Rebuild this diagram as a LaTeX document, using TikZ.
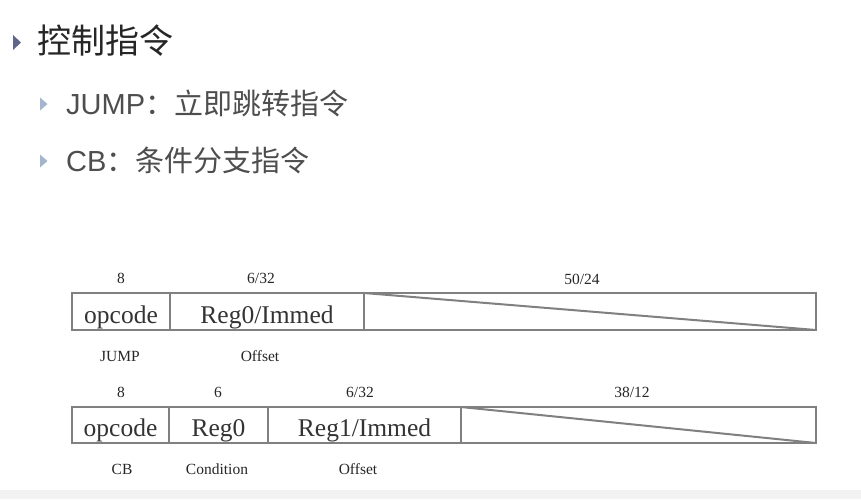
\documentclass[tikz,border=0pt]{standalone}
\usepackage{fontspec}
\setmainfont{Liberation Serif}
\newfontfamily\cjk{Noto Sans CJK SC}
\newfontfamily\hei{Liberation Sans}
\usetikzlibrary{positioning}
\definecolor{boxgray}{RGB}{128,128,128}
\definecolor{tridark}{RGB}{96,101,138}
\definecolor{trilight}{RGB}{163,182,206}
\definecolor{subtext}{RGB}{78,78,78}
\tikzset{
 field/.style={draw=boxgray, line width=2.6pt, inner sep=0pt, outer sep=0pt,
   text height=23pt, text depth=0pt,
   font=\fontsize{25.5}{25.5}\selectfont, text=black!80},
 bits/.style={font=\fontsize{15.5}{15.5}\selectfont, inner sep=0pt, text=black!85},
 item/.style={anchor=west, inner sep=0pt, text=subtext, font=\fontsize{29}{29}\selectfont},
}

\begin{document}
\begin{tikzpicture}[x=1pt, y=-1pt]
\useasboundingbox (0,0) rectangle (861,499);
\fill[white] (0,0) rectangle (861,499);
\fill[black!5] (0,490) rectangle (861,499);

% bullets
\fill[tridark] (13,35) -- (21,42.5) -- (13,50) -- cycle;
\node[anchor=west, inner sep=0pt, text=black!85, font=\cjk\fontsize{34}{34}\selectfont] (title) at (37,41) {控制指令};
\foreach \y in {104,161} {
 \fill[trilight] (40,\y-6.5) --++(7.5,6.5) --++(-7.5,6.5) -- cycle;
}
\node[item] (jump) at (66,103) {{\hei JUMP}{\cjk ：立即跳转指令}};
\node[item] (cb) at (66,160) {{\hei CB}{\cjk ：条件分支指令}};

% JUMP format
\node[field, minimum width=98pt, minimum height=37pt] (op1) at (121,311.5) {opcode};
\node[field, minimum width=194pt, minimum height=37pt, right=0pt of op1] (reg1) {Reg0/Immed};
\node[field, minimum width=452pt, minimum height=37pt, right=0pt of reg1] (rest1) {};
\draw[boxgray, line width=2pt] (rest1.north west) -- (rest1.south east);
\node[bits] (w11) at (121,278) {8};
\node[bits] (w12) at (261,278) {6/32};
\node[bits] (w13) at (582,279) {50/24};
\node[bits] (n11) at (120,356) {JUMP};
\node[bits] (n12) at (260,356) {Offset};

% CB format
\node[field, minimum width=97pt, minimum height=36pt] (op2) at (120.5,425) {opcode};
\node[field, minimum width=99pt, minimum height=36pt, right=0pt of op2] (cond2) {Reg0};
\node[field, minimum width=193pt, minimum height=36pt, right=0pt of cond2] (reg2) {Reg1/Immed};
\node[field, minimum width=355pt, minimum height=36pt, right=0pt of reg2] (rest2) {};
\draw[boxgray, line width=2pt] (rest2.north west) -- (rest2.south east);
\node[bits] (w21) at (121,392) {8};
\node[bits] (w22) at (218,392) {6};
\node[bits] (w23) at (360,392) {6/32};
\node[bits] (w24) at (632,392) {38/12};
\node[bits] (n21) at (122,469) {CB};
\node[bits] (n22) at (217,469) {Condition};
\node[bits] (n23) at (358,469) {Offset};
\end{tikzpicture}
\end{document}
